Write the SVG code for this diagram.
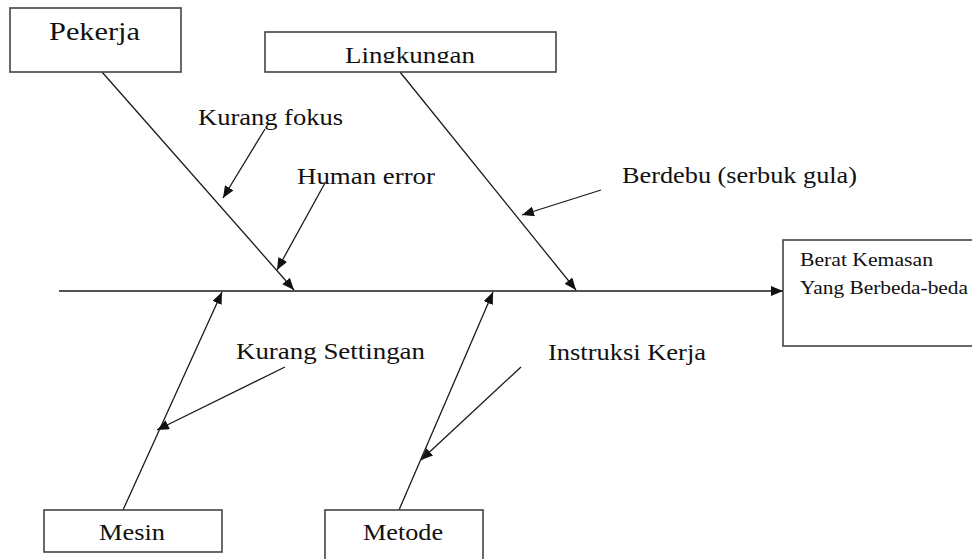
<svg xmlns="http://www.w3.org/2000/svg" width="972" height="559" viewBox="0 0 972 559">
<style>
.box{fill:#fff;stroke:#444;stroke-width:1.6}
.ar{stroke:#1a1a1a;stroke-width:1.3;fill:none;marker-end:url(#ah)}
text{font-family:'Liberation Serif','Times New Roman',Tinos,'DejaVu Serif',serif;fill:#111}
.l{font-size:24px}
</style>
<defs>
<marker id="ah" markerUnits="userSpaceOnUse" markerWidth="12" markerHeight="10" refX="12" refY="5" orient="auto">
<path d="M0,0 L12,5 L0,10 z" fill="#111"/>
</marker>
<clipPath id="clipL"><rect x="265" y="32" width="291" height="31"/></clipPath>
</defs>
<rect width="972" height="559" fill="#fff"/>
<g id="connectors">
<line class="ar" x1="59" y1="291" x2="783" y2="291"/>
<line class="ar" x1="102" y1="72" x2="294" y2="290"/>
<line class="ar" x1="400" y1="72" x2="576" y2="290"/>
<line class="ar" x1="123" y1="510" x2="222" y2="292"/>
<line class="ar" x1="399" y1="510" x2="493" y2="292"/>
<line class="ar" x1="265" y1="129" x2="223" y2="198"/>
<line class="ar" x1="325" y1="183" x2="277" y2="270"/>
<line class="ar" x1="601" y1="190" x2="522" y2="215"/>
<line class="ar" x1="285" y1="367" x2="157" y2="430"/>
<line class="ar" x1="521" y1="367" x2="421" y2="460"/>
</g>
<g id="pekerja">
<rect class="box" x="10" y="8" width="171" height="64"/>
<text font-family="Liberation Serif, serif" x="49" y="40" font-size="26" textLength="91" lengthAdjust="spacingAndGlyphs">Pekerja</text>
</g>
<g id="lingkungan">
<rect class="box" x="265" y="32" width="291" height="40"/>
<text class="l" font-family="Liberation Serif, serif" x="345" y="63" clip-path="url(#clipL)" textLength="130" lengthAdjust="spacingAndGlyphs">Lingkungan</text>
</g>
<g id="mesin">
<rect class="box" x="44" y="510" width="178" height="42"/>
<text class="l" font-family="Liberation Serif, serif" x="99" y="540" textLength="66" lengthAdjust="spacingAndGlyphs">Mesin</text>
</g>
<g id="metode">
<rect class="box" x="325" y="510" width="158" height="60"/>
<text class="l" font-family="Liberation Serif, serif" x="363" y="540" textLength="80" lengthAdjust="spacingAndGlyphs">Metode</text>
</g>
<g id="akibat">
<rect class="box" x="783" y="240" width="200" height="106"/>
<text font-family="Liberation Serif, serif" x="800" y="266" font-size="19" textLength="133" lengthAdjust="spacingAndGlyphs">Berat Kemasan</text>
<text font-family="Liberation Serif, serif" x="800" y="294" font-size="19" textLength="168" lengthAdjust="spacingAndGlyphs">Yang Berbeda-beda</text>
</g>
<g id="kurang-fokus"><text class="l" font-family="Liberation Serif, serif" x="198" y="125" textLength="145" lengthAdjust="spacingAndGlyphs">Kurang fokus</text></g>
<g id="human-error"><text class="l" font-family="Liberation Serif, serif" x="297" y="184" textLength="138" lengthAdjust="spacingAndGlyphs">Human error</text></g>
<g id="berdebu"><text class="l" font-family="Liberation Serif, serif" x="622" y="183" textLength="235" lengthAdjust="spacingAndGlyphs">Berdebu (serbuk gula)</text></g>
<g id="kurang-settingan"><text class="l" font-family="Liberation Serif, serif" x="236" y="359" textLength="189" lengthAdjust="spacingAndGlyphs">Kurang Settingan</text></g>
<g id="instruksi-kerja"><text class="l" font-family="Liberation Serif, serif" x="548" y="360" textLength="158" lengthAdjust="spacingAndGlyphs">Instruksi Kerja</text></g>
</svg>
